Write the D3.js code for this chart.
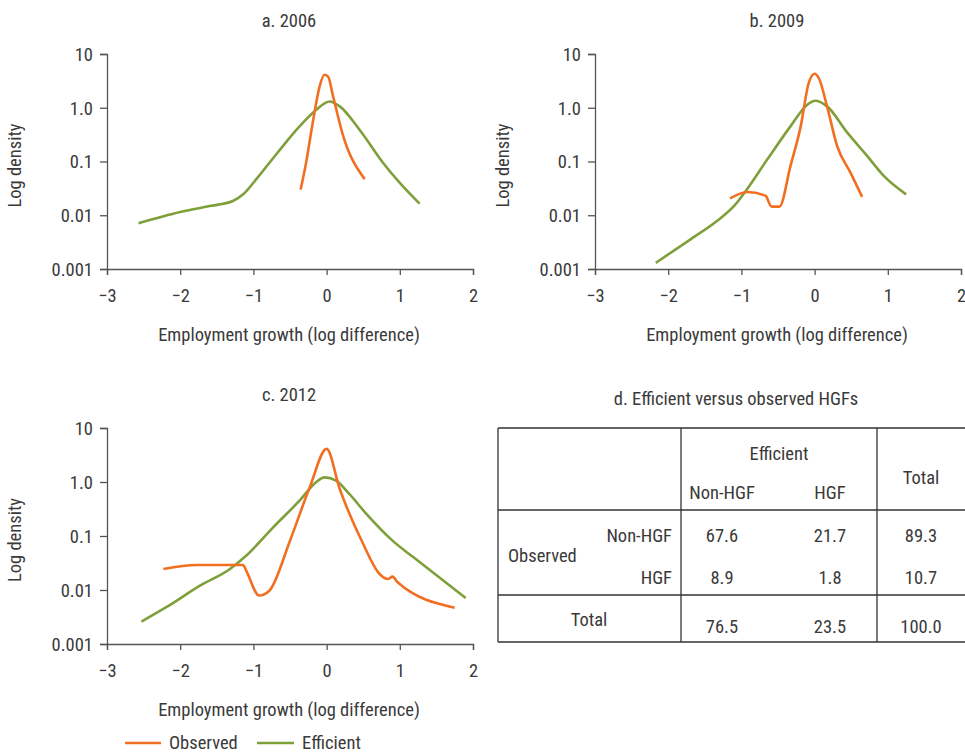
<!DOCTYPE html>
<html><head><meta charset="utf-8">
<script src="https://cdn.jsdelivr.net/npm/d3@7"></script>
<style>
body{margin:0;background:#fff;}
svg text{font-family:"Liberation Sans Narrow","Roboto Condensed","Liberation Sans",sans-serif;fill:#3a3a3a;}
</style></head><body>
<svg id="c" width="965" height="755"></svg>
<script>
// ---- data ----
const xTicks = [-3,-2,-1,0,1,2];
const yTicks = [10,1,0.1,0.01,0.001];
const yTickLabels = ["10","1.0","0.1","0.01","0.001"];
const obs2006 = [[-0.355,0.030],[-0.28,0.095],[-0.19,0.52],[-0.095,2.5],[-0.03,4.1],[0.02,3.8],[0.09,1.6],[0.22,0.32],[0.52,0.047]];
const eff2006 = [[-2.57,0.0071],[-2.0,0.0115],[-1.6,0.0148],[-1.28,0.0184],[-1.14,0.0245],[-0.96,0.047],[-0.69,0.135],[-0.37,0.45],[-0.14,0.92],[0.04,1.31],[0.18,1.06],[0.45,0.39],[0.77,0.095],[1.0,0.04],[1.27,0.0165]];
const obs2009 = [[-1.155,0.0205],[-0.92,0.027],[-0.67,0.023],[-0.59,0.0145],[-0.48,0.0145],[-0.33,0.082],[-0.19,0.45],[-0.08,2.9],[0.0,4.3],[0.06,3.5],[0.17,1.06],[0.31,0.19],[0.49,0.062],[0.65,0.022]];
const eff2009 = [[-2.17,0.0013],[-1.69,0.0036],[-1.33,0.0079],[-1.10,0.0149],[-0.96,0.026],[-0.645,0.11],[-0.33,0.45],[-0.1,1.14],[0.01,1.35],[0.17,1.06],[0.45,0.34],[0.72,0.126],[0.945,0.054],[1.25,0.0245]];
const obs2012 = [[-2.23,0.0245],[-1.78,0.029],[-1.14,0.029],[-1.1,0.023],[-0.92,0.0079],[-0.78,0.0098],[-0.5,0.082],[-0.23,0.8],[0.0,4.1],[0.18,0.74],[0.5,0.071],[0.72,0.02],[0.84,0.016],[0.9,0.0177],[0.97,0.0139],[1.75,0.0047]];
const eff2012 = [[-2.53,0.0026],[-2.19,0.0048],[-1.73,0.012],[-1.32,0.0245],[-1.1,0.043],[-0.73,0.145],[-0.37,0.45],[-0.14,1.0],[-0.03,1.22],[0.13,1.06],[0.31,0.6],[0.54,0.26],[0.9,0.082],[1.2,0.039],[1.9,0.0071]];
const panelTitles = ["a. 2006","b. 2009","c. 2012"];
const xLabel = "Employment growth (log difference)";
const yLabel = "Log density";
const seriesNames = ["Observed","Efficient"];
const tableTitle = "d. Efficient versus observed HGFs";
const tableColHead = ["Non-HGF","HGF"];
const tableRowHead = ["Non-HGF","HGF"];
const tableVals = [["67.6","21.7","89.3"],["8.9","1.8","10.7"]];
const tableTotals = ["76.5","23.5","100.0"];

const colors = {obs:"#f26f21", eff:"#7f9f3a"};
const svg = d3.select("#c");
const FS = 18.5;

function panel(x0, x1, yTop, yBot, title, obs, eff){
  const x = d3.scaleLinear().domain([-3,2]).range([x0,x1]);
  const y = d3.scaleLog().domain([0.001,10]).range([yBot,yTop]);
  const g = svg.append("g");
  const ax = g.append("g").attr("transform",`translate(0,${yBot})`)
    .call(d3.axisBottom(x).tickValues(xTicks).tickSize(6).tickPadding(14).tickFormat(d=>d<0?"\u2212"+Math.abs(d):d));
  const ay = g.append("g").attr("transform",`translate(${x0},0)`)
    .call(d3.axisLeft(y).tickValues(yTicks).tickSize(7).tickPadding(7).tickFormat((d,i)=>yTickLabels[i]));
  [ax,ay].forEach(a=>{a.select(".domain").attr("stroke","#555").attr("stroke-width",1.3);
    a.selectAll(".tick line").attr("stroke","#555").attr("stroke-width",1.3);
    a.selectAll("text").attr("font-size",FS).style("font-family",null);});
  ay.selectAll(".tick text").attr("dy","0.35em");
  const line = d3.line().x(d=>x(d[0])).y(d=>y(d[1])).curve(d3.curveMonotoneX);
  g.append("path").datum(eff).attr("d",line).attr("fill","none").attr("stroke",colors.eff).attr("stroke-width",2.6);
  g.append("path").datum(obs).attr("d",line).attr("fill","none").attr("stroke",colors.obs).attr("stroke-width",2.6);
  g.append("text").attr("x",(x0+x1)/2-1).attr("y",yTop-27).attr("text-anchor","middle").attr("font-size",FS).text(title);
  g.append("text").attr("x",(x0+x1)/2-1).attr("y",yBot+72).attr("text-anchor","middle").attr("font-size",FS).text(xLabel);
  g.append("text").attr("transform",`translate(${x0-86},${(yTop+yBot)/2+4}) rotate(-90)`).attr("text-anchor","middle").attr("font-size",FS).text(yLabel);
}
panel(107,473,54,269,panelTitles[0],obs2006,eff2006);
panel(595,961,54,269,panelTitles[1],obs2009,eff2009);
panel(107,473,428,644,panelTitles[2],obs2012,eff2012);

// legend
const lg = svg.append("g");
lg.append("line").attr("x1",125).attr("x2",161).attr("y1",743).attr("y2",743).attr("stroke",colors.obs).attr("stroke-width",2.6);
lg.append("text").attr("x",169).attr("y",749).attr("font-size",FS).text(seriesNames[0]);
lg.append("line").attr("x1",257).attr("x2",294).attr("y1",743).attr("y2",743).attr("stroke",colors.eff).attr("stroke-width",2.6);
lg.append("text").attr("x",302).attr("y",749).attr("font-size",FS).text(seriesNames[1]);

// table
const t = svg.append("g");
const L=498, R=967, T=428, B=642, v1=681, v2=877, h1=510, h2=595;
const st = {stroke:"#333","stroke-width":1.3};
function ln(a,b,c,d){const l=t.append("line").attr("x1",a).attr("y1",b).attr("x2",c).attr("y2",d);Object.entries(st).forEach(([k,v])=>l.attr(k,v));}
ln(L,T,R,T); ln(L,B,R,B); ln(L,T,L,B); ln(v1,T,v1,B); ln(v2,T,v2,B); ln(L,h1,R,h1); ln(L,h2,R,h2);
function tx(x,y,s,anchor){t.append("text").attr("x",x).attr("y",y).attr("text-anchor",anchor||"middle").attr("font-size",FS).text(s);}
tx(736,405,tableTitle);
tx(779,460,"Efficient");
const cx=[722,830,921];
tx(cx[0],499,tableColHead[0]); tx(cx[1],499,tableColHead[1]);
tx(921,484,"Total");
tx(672,542,tableRowHead[0],"end"); tx(672,584,tableRowHead[1],"end");
tx(508,562,"Observed","start");
tableVals.forEach((row,i)=>row.forEach((v,j)=>tx(cx[j],i?584:542,v)));
tx(589,626,"Total");
tableTotals.forEach((v,j)=>tx(cx[j],633,v));
</script></body></html>
